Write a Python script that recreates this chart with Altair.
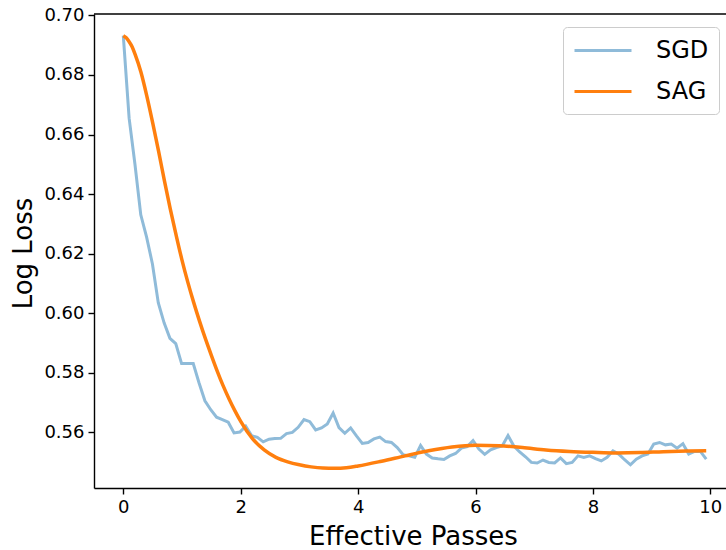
import altair as alt
import numpy as np
import pandas as pd

# SGD: 101 evenly spaced readings from x=0 to x=9.93 effective passes
sgd_x_start = 0.0
sgd_x_end = 9.93
sgd_values = [
    0.6932, 0.6655, 0.6500, 0.6330, 0.6255, 0.6165, 0.6035, 0.5967, 0.5915, 0.5897,
    0.5830, 0.5830, 0.5830, 0.5765, 0.5705, 0.5675, 0.5650, 0.5642, 0.5633, 0.5597,
    0.5600, 0.5620, 0.5588, 0.5582, 0.5567, 0.5576, 0.5578, 0.5579, 0.5595, 0.5599,
    0.5616, 0.5642, 0.5635, 0.5607, 0.5614, 0.5627, 0.5664, 0.5615, 0.5596, 0.5614,
    0.5587, 0.5562, 0.5565, 0.5577, 0.5583, 0.5568, 0.5565, 0.5548, 0.5524, 0.5520,
    0.5515, 0.5555, 0.5526, 0.5513, 0.5510, 0.5508, 0.5520, 0.5528, 0.5546, 0.5551,
    0.5571, 0.5543, 0.5525, 0.5540, 0.5548, 0.5553, 0.5588, 0.5553, 0.5533, 0.5517,
    0.5498, 0.5496, 0.5506, 0.5498, 0.5496, 0.5513, 0.5494, 0.5498, 0.5520, 0.5515,
    0.5520, 0.5511, 0.5503, 0.5515, 0.5537, 0.5526, 0.5507, 0.5490, 0.5509, 0.5520,
    0.5526, 0.5560, 0.5565, 0.5557, 0.5560, 0.5546, 0.5561, 0.5526, 0.5535, 0.5535,
    0.5509,
]

# SAG: smooth curve read at these x positions
sag_x = [0.0, 0.05, 0.1, 0.15, 0.2, 0.3, 0.4, 0.5, 0.6, 0.7, 0.8, 0.9, 1.0, 1.1, 1.2,
         1.3, 1.4, 1.5, 1.6, 1.7, 1.8, 1.9, 2.0, 2.2, 2.4, 2.6, 2.8, 3.0, 3.2, 3.4,
         3.6, 3.8, 4.0, 4.4, 4.8, 5.2, 5.6, 6.0, 6.4, 6.8, 7.2, 7.6, 8.0, 8.4, 8.8,
         9.2, 9.6, 9.93]
sag_values = [0.6932, 0.6925, 0.6912, 0.6895, 0.6870, 0.6810, 0.6730, 0.6640, 0.6545,
              0.6445, 0.6350, 0.6262, 0.6178, 0.6103, 0.6035, 0.5972, 0.5913, 0.5858,
              0.5805, 0.5756, 0.5712, 0.5672, 0.5636, 0.5578, 0.5540, 0.5515, 0.5500,
              0.5490, 0.5483, 0.5479, 0.5478, 0.5480, 0.5486, 0.5502, 0.5520, 0.5537,
              0.5550, 0.5556, 0.5554, 0.5548, 0.5540, 0.5535, 0.5532, 0.5530, 0.5531,
              0.5534, 0.5536, 0.5537]

x_ticks = [0, 2, 4, 6, 8, 10]
y_ticks = [0.56, 0.58, 0.60, 0.62, 0.64, 0.66, 0.68, 0.70]
series_names = ["SGD", "SAG"]
series_colors = ["#8fbbd9", "#ff7f0e"]

W, H = 632, 474

sgd_x = np.linspace(sgd_x_start, sgd_x_end, len(sgd_values))
df_sgd = pd.DataFrame({"x": sgd_x, "y": sgd_values, "series": "SGD"})
df_sag = pd.DataFrame({"x": sag_x, "y": sag_values, "series": "SAG"})

xscale = alt.Scale(domain=[-0.499, 10.267], nice=False, zero=False)
yscale = alt.Scale(domain=[0.5412, 0.7005], nice=False, zero=False)
cscale = alt.Scale(domain=series_names, range=series_colors)

x_enc = alt.X("x:Q", scale=xscale,
              axis=alt.Axis(values=x_ticks, format="d", title="Effective Passes",
                            titleX=319, titleY=56, titleBaseline="alphabetic",
                            titleAlign="center"))
y_enc = alt.Y("y:Q", scale=yscale,
              axis=alt.Axis(values=y_ticks, format=".2f", title="Log Loss",
                            titleX=-63, titleY=239, titleAngle=270,
                            titleAlign="center", titleBaseline="alphabetic"))
legend = alt.Legend(title=None, orient="none", legendX=469, legendY=13,
                    symbolType="M-1,0H3.75", symbolSize=576, symbolStrokeWidth=3,
                    labelFontSize=24, labelFont="DejaVu Sans", labelColor="black",
                    labelOffset=56, rowPadding=15, padding=10,
                    fillColor="rgba(255,255,255,0.8)", strokeColor="#cccccc",
                    cornerRadius=4)

sgd = alt.Chart(df_sgd).mark_line(strokeWidth=3).encode(
    x=x_enc, y=y_enc,
    color=alt.Color("series:N", scale=cscale, legend=legend, sort=series_names),
)
sag = alt.Chart(df_sag).mark_line(strokeWidth=3.5, interpolate="monotone").encode(
    x=x_enc, y=y_enc,
    color=alt.Color("series:N", scale=cscale, legend=legend, sort=series_names),
)
top_spine = alt.Chart(pd.DataFrame({"a": [0]})).mark_rule(
    color="black", strokeWidth=1.4
).encode(x=alt.value(0), x2=alt.value(W), y=alt.value(0))

chart = alt.layer(sgd, sag, top_spine).properties(
    width=W, height=H,
    autosize=alt.AutoSizeParams(type="none"),
    padding={"left": 94, "top": 14, "right": 0, "bottom": 550 - 14 - H},
).configure_view(stroke=None).configure_axis(
    grid=False, domainColor="black", domainWidth=1.4, tickColor="black",
    tickWidth=1.4, tickSize=6, labelFontSize=18, labelFont="DejaVu Sans",
    labelColor="black", labelPadding=4, titleFont="DejaVu Sans", titleFontSize=26,
    titleFontWeight="normal", titleColor="black",
)

chart.save("out.html", embed_options={"renderer": "svg", "actions": False})
